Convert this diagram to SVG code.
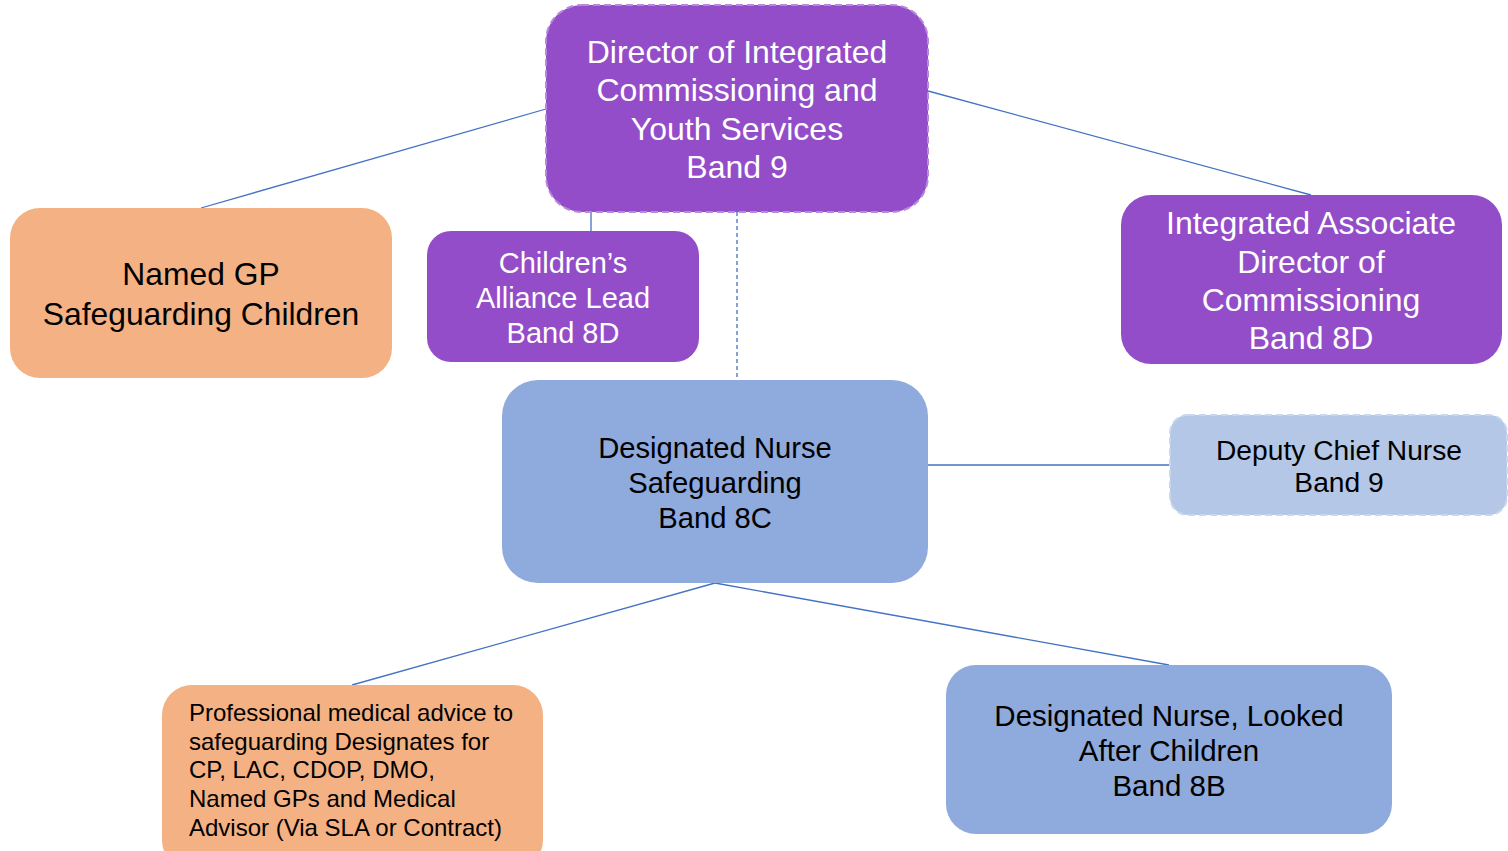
<svg xmlns="http://www.w3.org/2000/svg" width="1508" height="851" viewBox="0 0 1508 851">
<style>
.t{font-family:"Liberation Sans",Arial,sans-serif;text-anchor:middle}
.w{fill:#ffffff}
.k{fill:#000000}
.purple{fill:#944DC8}
.orange{fill:#F4B183}
.blue{fill:#8FAADC}
.ln{stroke:#4472C4;stroke-width:1.3;fill:none}
</style>
<rect width="1508" height="851" fill="#ffffff"/>
<g id="connectors">
<line class="ln" x1="546" y1="109" x2="201" y2="208"/>
<line class="ln" x1="928" y1="91" x2="1311" y2="195"/>
<line class="ln" x1="591" y1="212" x2="591" y2="231"/>
<line class="ln" x1="737" y1="212" x2="737" y2="380" stroke-dasharray="4,3"/>
<line class="ln" x1="928" y1="465" x2="1170" y2="465"/>
<line class="ln" x1="715" y1="583" x2="352" y2="685"/>
<line class="ln" x1="715" y1="583" x2="1169" y2="665"/>
</g>
<g id="director">
<rect class="purple" x="546" y="5" width="382" height="207" rx="36" stroke="#B888DD" stroke-width="2" stroke-dasharray="7,4"/>
<text class="t w" font-size="32"><tspan x="737" y="63">Director of Integrated</tspan><tspan x="737" y="101">Commissioning and</tspan><tspan x="737" y="140">Youth Services</tspan><tspan x="737" y="178">Band 9</tspan></text>
</g>
<g id="named-gp">
<rect class="orange" x="10" y="208" width="382" height="170" rx="30"/>
<text class="t k" font-size="31.8"><tspan x="201" y="285">Named GP</tspan><tspan x="201" y="325">Safeguarding Children</tspan></text>
</g>
<g id="childrens-alliance">
<rect class="purple" x="427" y="231" width="272" height="131" rx="24"/>
<text class="t w" font-size="29"><tspan x="563" y="273">Children’s</tspan><tspan x="563" y="308">Alliance Lead</tspan><tspan x="563" y="343">Band 8D</tspan></text>
</g>
<g id="integrated-associate">
<rect class="purple" x="1121" y="195" width="381" height="169" rx="30"/>
<text class="t w" font-size="32"><tspan x="1311" y="234">Integrated Associate</tspan><tspan x="1311" y="273">Director of</tspan><tspan x="1311" y="311">Commissioning</tspan><tspan x="1311" y="349">Band 8D</tspan></text>
</g>
<g id="designated-nurse">
<rect class="blue" x="502" y="380" width="426" height="203" rx="36"/>
<text class="t k" font-size="29.2"><tspan x="715" y="458">Designated Nurse</tspan><tspan x="715" y="493">Safeguarding</tspan><tspan x="715" y="528">Band 8C</tspan></text>
</g>
<g id="deputy-chief">
<rect x="1170" y="415" width="337" height="100" rx="18" fill="#B4C7E7" stroke="#C8D6EE" stroke-width="2" stroke-dasharray="7,4"/>
<text class="t k" font-size="28.2"><tspan x="1339" y="460">Deputy Chief Nurse</tspan><tspan x="1339" y="492">Band 9</tspan></text>
</g>
<g id="professional-advice">
<rect class="orange" x="162" y="685" width="381" height="185" rx="30"/>
<text font-family="Liberation Sans,Arial,sans-serif" class="k" font-size="24"><tspan x="189" y="721">Professional medical advice to</tspan><tspan x="189" y="750">safeguarding Designates for</tspan><tspan x="189" y="778">CP, LAC, CDOP, DMO,</tspan><tspan x="189" y="807">Named GPs and Medical</tspan><tspan x="189" y="836">Advisor (Via SLA or Contract)</tspan></text>
</g>
<g id="designated-lac">
<rect class="blue" x="946" y="665" width="446" height="169" rx="30"/>
<text class="t k" font-size="29.5"><tspan x="1169" y="726">Designated Nurse, Looked</tspan><tspan x="1169" y="761">After Children</tspan><tspan x="1169" y="796">Band 8B</tspan></text>
</g>
</svg>
